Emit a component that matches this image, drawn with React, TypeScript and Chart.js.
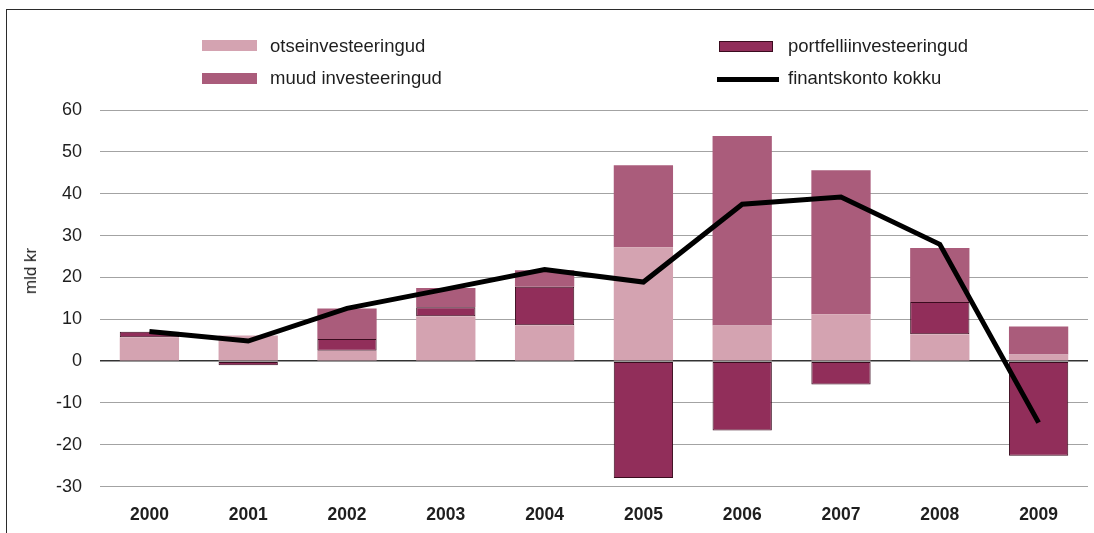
import React, { useEffect, useRef } from "react";
import { Chart, registerables } from "chart.js";

Chart.register(...registerables);

const years = ["2000", "2001", "2002", "2003", "2004", "2005", "2006", "2007", "2008", "2009"];
const otseinvesteeringud = [5.7, 6.1, 2.5, 10.7, 8.6, 27.2, 8.5, 11.2, 6.4, 1.6];
const portfelliinvesteeringud = [1.3, -1.0, 2.8, 2.2, 9.2, -27.9, -16.6, -5.6, 7.7, -22.6];
const muudInvesteeringud = [0, 0, 7.3, 4.6, 3.9, 19.6, 45.3, 34.4, 12.9, 6.7];
const finantskontoKokku = [7.1, 4.8, 12.6, 17.2, 21.9, 18.9, 37.5, 39.2, 27.9, -14.7];

const yMin = -30;
const yMax = 60;
const yStep = 10;

const COLOR_OTSE = "#d4a3b1";
const COLOR_MUUD = "#aa5c7b";
const COLOR_PORT = "#912e5a";
const COLOR_PORT_BORDER = "#3a0b1e";
const FONT = "'Liberation Sans', Arial, Helvetica, sans-serif";
const TEXT = "#1e1e1e";

export default function App() {
  const ref = useRef<HTMLCanvasElement | null>(null);

  useEffect(() => {
    const canvas = ref.current;
    if (!canvas) return;
    const chart = new Chart(canvas, {
      type: "bar",
      data: {
        labels: years,
        datasets: [
          {
            type: "line",
            label: "finantskonto kokku",
            data: finantskontoKokku,
            borderColor: "#000000",
            backgroundColor: "#000000",
            borderWidth: 5,
            pointRadius: 0,
            pointHoverRadius: 0,
            tension: 0,
            borderJoinStyle: "miter",
            borderCapStyle: "butt",
            stack: "line",
            order: 0,
          } as any,
          {
            label: "otseinvesteeringud",
            data: otseinvesteeringud,
            backgroundColor: COLOR_OTSE,
            borderWidth: 0,
            stack: "bars",
            order: 1,
          },
          {
            label: "portfelliinvesteeringud",
            data: portfelliinvesteeringud,
            backgroundColor: COLOR_PORT,
            borderColor: COLOR_PORT_BORDER,
            borderWidth: 1,
            borderSkipped: false,
            stack: "bars",
            order: 1,
          },
          {
            label: "muud investeeringud",
            data: muudInvesteeringud,
            backgroundColor: COLOR_MUUD,
            borderWidth: 0,
            stack: "bars",
            order: 1,
          },
        ],
      },
      options: {
        responsive: false,
        animation: false,
        layout: { padding: { top: 110, right: 6, left: 0, bottom: 0 } },
        plugins: {
          legend: { display: false },
          tooltip: { enabled: false },
        },
        datasets: {
          bar: { barPercentage: 0.6, categoryPercentage: 1 },
        },
        scales: {
          x: {
            stacked: true,
            offset: true,
            grid: { display: false, drawTicks: false },
            border: { display: false },
            ticks: {
              color: TEXT,
              padding: 18,
              font: { family: FONT, size: 17.5, weight: "bold" },
            },
            afterFit: (s: any) => {
              s.height = 46.3;
            },
          },
          y: {
            stacked: true,
            min: yMin,
            max: yMax,
            border: { display: false },
            grid: {
              drawTicks: false,
              color: (c: any) => (c.tick && c.tick.value === 0 ? "#333333" : "#a3a3a3"),
              lineWidth: (c: any) => (c.tick && c.tick.value === 0 ? 1.5 : 1),
            },
            ticks: {
              stepSize: yStep,
              color: TEXT,
              padding: 18,
              font: { family: FONT, size: 18 },
            },
            afterFit: (s: any) => {
              s.width = 100;
            },
          },
        },
      },
    });
    return () => chart.destroy();
  }, []);

  const legendText: React.CSSProperties = {
    position: "absolute",
    fontFamily: FONT,
    fontSize: 18.5,
    lineHeight: "22px",
    height: 22,
    color: TEXT,
    whiteSpace: "nowrap",
  };

  return (
    <div
      style={{
        position: "fixed",
        left: 0,
        top: 0,
        width: 1094,
        height: 533,
        overflow: "hidden",
        background: "#ffffff",
      }}
    >
      <div
        style={{
          position: "absolute",
          left: 6,
          top: 9,
          right: -4,
          bottom: -4,
          borderTop: "1.5px solid #2b2b2b",
          borderLeft: "1.5px solid #2b2b2b",
        }}
      />
      <canvas ref={ref} width={1094} height={533} style={{ position: "absolute", left: 0, top: 0 }} />

      <div
        style={{
          position: "absolute",
          left: 31,
          top: 271,
          transform: "translate(-50%, -50%) rotate(-90deg)",
          fontFamily: FONT,
          fontSize: 17,
          color: TEXT,
          whiteSpace: "nowrap",
          lineHeight: "20px",
        }}
      >
        mld kr
      </div>

      <div style={{ position: "absolute", left: 202, top: 40, width: 55, height: 11, background: COLOR_OTSE }} />
      <div style={{ ...legendText, left: 270, top: 34.5 }}>otseinvesteeringud</div>

      <div style={{ position: "absolute", left: 202, top: 73, width: 55, height: 10.5, background: COLOR_MUUD }} />
      <div style={{ ...legendText, left: 270, top: 67 }}>muud investeeringud</div>

      <div
        style={{
          position: "absolute",
          left: 719,
          top: 41,
          width: 54,
          height: 10.5,
          background: COLOR_PORT,
          border: `1px solid ${COLOR_PORT_BORDER}`,
          boxSizing: "border-box",
        }}
      />
      <div style={{ ...legendText, left: 788, top: 35 }}>portfelliinvesteeringud</div>

      <div style={{ position: "absolute", left: 717, top: 76.5, width: 62, height: 5, background: "#000000" }} />
      <div style={{ ...legendText, left: 788, top: 67 }}>finantskonto kokku</div>
    </div>
  );
}
